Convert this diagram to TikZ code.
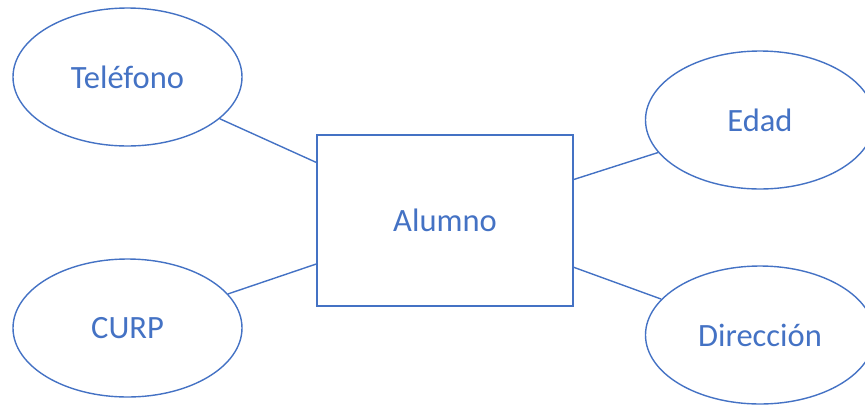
\documentclass[tikz,border=0pt]{standalone}
\usepackage{fontspec}
\setmainfont{Carlito}
\usetikzlibrary{shapes.geometric}
\definecolor{erblue}{HTML}{4472C4}

\begin{document}
\begin{tikzpicture}[x=1pt,y=-1pt,
                    attr/.style = {shape = ellipse,
                                   color = erblue,
                                   text = erblue,
                                   line width = 1.4pt,
                                   inner sep = 0pt,
                                   minimum width = 229pt,
                                   minimum height = 138pt,
                                   font = \fontsize{32.5}{38}\selectfont,
                                   draw},
                    ent/.style = {shape = rectangle,
                                  color = erblue,
                                  text = erblue,
                                  line width = 1.4pt,
                                  inner sep = 0pt,
                                  minimum width = 256pt,
                                  minimum height = 171pt,
                                  font = \fontsize{32.5}{38}\selectfont,
                                  draw}]
		\useasboundingbox (0,0) rectangle (865,405);
		\node[ent] (alumno) at (445,220.5) {Alumno};
		\node[attr] (tel) at (127.5,77) {Teléfono};
		\node[attr] (curp) at (127.5,328) {CURP};
		\node[attr] (edad) at (760,120) {Edad};
		\node[attr] (dir) at (760,335) {Dirección};
		\path[erblue, line width = 1.4pt] (tel) edge (alumno);
		\path[erblue, line width = 1.4pt] (curp) edge (alumno);
		\path[erblue, line width = 1.4pt] (alumno) edge (edad);
		\path[erblue, line width = 1.4pt] (alumno) edge (dir);
	\end{tikzpicture}
\end{document}
